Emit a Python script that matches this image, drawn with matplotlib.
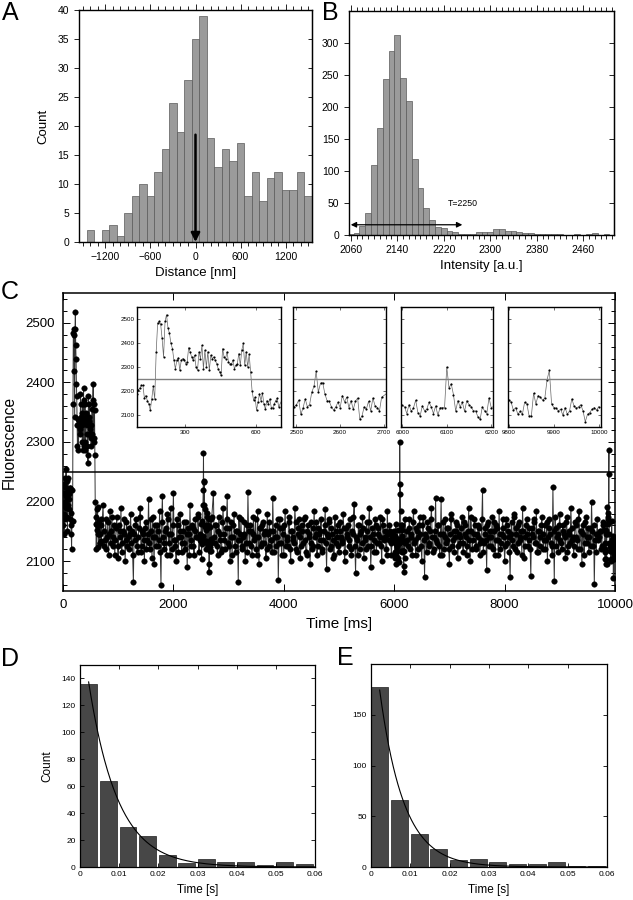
import numpy as np
import matplotlib
matplotlib.use('Agg')
import matplotlib.pyplot as plt
from matplotlib.ticker import MultipleLocator, FixedLocator

plt.rcParams['font.family'] = ['Liberation Sans', 'DejaVu Sans']

# ---------------- data ----------------
# Panel A: distance histogram (bins centred on multiples of 100 nm)
a_first_center = -1400
a_bin_width = 100
a_counts = [2, 0, 2, 3, 1, 5, 8, 10, 8, 12, 16, 24, 19, 28, 35, 39, 18, 13, 16, 14,
            17, 8, 12, 7, 11, 12, 9, 9, 12, 8]
a_xticks = [-1200, -600, 0, 600, 1200]
a_arrow_top = 18.5

# Panel B: intensity histogram (bins centred on multiples of 10)
b_first_center = 2060
b_bin_width = 10
b_counts = [1, 3, 14, 34, 110, 167, 244, 288, 313, 245, 210, 118, 73, 42, 23, 12, 11, 7, 4, 2,
            1, 2, 4, 4, 5, 10, 9, 6, 6, 5, 3, 3, 2, 2, 1, 1, 1, 0.5, 0.5, 1,
            0.5, 1, 3, 0, 1]
b_xticks = [2060, 2140, 2220, 2300, 2380, 2460]
threshold = 2250

# Panel C: fluorescence trace, segments (start ms, step ms, values)
c_pre = [2160, 2195, 2230, 2180, 2145, 2215, 2240, 2200, 2170, 2225, 2190, 2255, 2210, 2175,
         2235, 2205, 2150, 2220, 2240, 2195]
c_event = [2188, 2205, 2213, 2223, 2223, 2171, 2181, 2160, 2146, 2120, 2167, 2219, 2167,
           2363, 2483, 2490, 2480, 2419, 2342, 2490, 2518, 2462, 2440, 2398, 2377, 2328, 2293,
           2328, 2339, 2286, 2328, 2335, 2331, 2314, 2321, 2381, 2363, 2342, 2328, 2349, 2300,
           2286, 2363, 2335, 2391, 2293, 2370, 2300, 2363, 2286, 2349, 2335, 2342, 2328, 2314,
           2293, 2279, 2265, 2377, 2342, 2335, 2363, 2321, 2314, 2311, 2328, 2293, 2307, 2314,
           2356, 2307, 2370, 2398, 2307, 2363, 2300, 2353, 2279,
           2199, 2162, 2174, 2120, 2153, 2188, 2160, 2191, 2146, 2124, 2160, 2146, 2167, 2131,
           2131, 2146, 2160, 2171, 2134]
c_base1 = [2195, 2125, 2170, 2140, 2110, 2185, 2150, 2125, 2160, 2135,
           2175, 2105, 2150, 2190, 2130, 2145, 2100, 2165, 2140, 2120,
           2180, 2150, 2065, 2135, 2170, 2115, 2155, 2190, 2125, 2145,
           2100, 2165, 2135, 2205, 2120, 2150, 2175, 2095, 2140, 2160,
           2125, 2185, 2060, 2210, 2130, 2150, 2110, 2170, 2145, 2190,
           2120, 2215, 2135, 2100, 2160, 2140, 2180, 2115, 2150, 2130,
           2165, 2090, 2145, 2195, 2125, 2155, 2110, 2170, 2140, 2180, 2135]
c_base1b = [2150, 2135, 2120, 2165, 2145, 2130, 2175, 2140, 2110, 2155,
            2125, 2160, 2140, 2115, 2150, 2170, 2135, 2125, 2155, 2145,
            2130, 2110, 2145, 2160, 2125, 2140, 2175, 2115, 2150, 2135,
            2155, 2120, 2145, 2130, 2170, 2105, 2140, 2160, 2125, 2150,
            2135, 2115, 2165, 2140, 2120, 2155, 2180, 2130, 2110, 2145,
            2160, 2135, 2125, 2170, 2115, 2150, 2140, 2130, 2165, 2120,
            2145, 2155, 2110, 2135, 2160, 2125, 2150, 2140, 2175, 2115, 2145]
c_zoom2 = [2134, 2143, 2162, 2103, 2129, 2167, 2134, 2143, 2195, 2219, 2282, 2195, 2233, 2235,
           2188, 2160, 2157, 2134, 2120, 2134, 2153, 2131, 2181, 2155, 2174, 2131, 2160, 2123,
           2157, 2171, 2082, 2096, 2134, 2124, 2157, 2117, 2171, 2138, 2131, 2117, 2174]
c_base2 = [2215, 2130, 2160, 2110, 2175, 2145, 2120, 2190, 2135, 2155,
           2210, 2125, 2100, 2165, 2140, 2180, 2115, 2150, 2065, 2135,
           2170, 2125, 2145, 2100, 2160, 2216, 2130, 2150, 2110, 2175,
           2140, 2120, 2185, 2095, 2155, 2130, 2165, 2145, 2105, 2180,
           2125, 2150, 2135, 2206, 2115, 2160, 2140, 2068, 2170, 2130,
           2155, 2110, 2185, 2140, 2125, 2165, 2100, 2150, 2135, 2190,
           2120, 2145, 2170, 2105, 2160, 2130, 2175, 2115, 2150, 2140,
           2095, 2165, 2125, 2185, 2145, 2110, 2155, 2135, 2170, 2120,
           2150, 2188, 2087, 2140, 2165, 2125, 2145, 2105, 2175, 2130,
           2160, 2115, 2150, 2135, 2180, 2100, 2155, 2140, 2125, 2170,
           2110, 2145, 2196, 2080, 2135, 2160, 2120, 2150, 2175, 2105,
           2140, 2165, 2125, 2190, 2090, 2155, 2135, 2170, 2115, 2145,
           2130, 2175, 2100, 2160, 2140, 2120, 2185, 2135, 2150, 2110, 2145]
c_base2b = [2140, 2160, 2125, 2150, 2135, 2115, 2165, 2145, 2120, 2170,
            2130, 2155, 2140, 2110, 2160, 2125, 2150, 2135, 2175, 2145,
            2120, 2140, 2165, 2130, 2115, 2150, 2160, 2125, 2145, 2135,
            2170, 2110, 2140, 2155, 2125, 2160, 2130, 2150, 2120, 2145,
            2165, 2135, 2115, 2150, 2140, 2125, 2170, 2130, 2155, 2110,
            2145, 2160, 2125, 2135, 2175, 2120, 2150, 2140, 2130, 2165,
            2115, 2155, 2140, 2125, 2150, 2170, 2135, 2110, 2160, 2145,
            2130, 2120, 2155, 2140, 2165, 2125, 2145, 2150, 2115, 2135,
            2160, 2130, 2145, 2170, 2120, 2155, 2135, 2110, 2150, 2140,
            2125, 2165, 2140, 2130, 2155, 2115, 2145, 2160, 2135, 2120,
            2150, 2175, 2125, 2140, 2110, 2160, 2145, 2130, 2155, 2135,
            2120, 2150, 2165, 2140, 2125, 2145, 2115, 2160, 2130, 2155,
            2140, 2125, 2170, 2135, 2150, 2110, 2145, 2160, 2130, 2140, 2150]
c_zoom3 = [2140, 2134, 2106, 2143, 2115, 2129, 2162, 2110, 2096, 2138, 2117, 2124, 2153, 2134,
           2106, 2138, 2099, 2131, 2131, 2131, 2300, 2213, 2230, 2185, 2117, 2160, 2134, 2153,
           2115, 2160, 2143, 2134, 2117, 2117, 2092, 2082, 2134, 2117, 2106, 2171, 2131]
c_base3 = [2150, 2125, 2170, 2140, 2110, 2185, 2135, 2155, 2120, 2160,
           2145, 2100, 2175, 2073, 2140, 2165, 2125, 2150, 2190, 2115,
           2140, 2206, 2130, 2160, 2110, 2205, 2145, 2120, 2170, 2135,
           2155, 2095, 2180, 2125, 2150, 2140, 2165, 2105, 2145, 2130,
           2175, 2115, 2160, 2140, 2125, 2190, 2100, 2150, 2135, 2170,
           2120, 2145, 2160, 2110, 2135, 2220, 2130, 2155, 2085, 2165,
           2140, 2125, 2175, 2150, 2110, 2160, 2135, 2185, 2120, 2145,
           2155, 2100, 2170, 2130, 2140, 2073, 2165, 2125, 2180, 2145,
           2115, 2160, 2135, 2150, 2190, 2105, 2140, 2170, 2125, 2155,
           2075, 2145, 2165, 2130, 2185, 2115, 2150, 2140, 2175, 2120,
           2160, 2135, 2100, 2170, 2145, 2125, 2225, 2066, 2155, 2140,
           2115, 2180, 2130, 2160, 2145, 2105, 2175, 2125, 2150, 2190,
           2135, 2110, 2165, 2140, 2120, 2185, 2150, 2095, 2160, 2130,
           2175, 2140, 2115, 2155, 2200, 2125, 2061, 2145, 2170, 2135, 2150, 2120, 2165]
c_base3b = [2135, 2155, 2120, 2145, 2165, 2130, 2110, 2150, 2140, 2175,
            2125, 2160, 2135, 2145, 2115, 2155, 2130, 2170, 2140, 2120,
            2150, 2135, 2160, 2125, 2145, 2110, 2165, 2140, 2130, 2155,
            2120, 2145, 2170, 2135, 2115, 2150, 2160, 2125, 2140, 2155,
            2130, 2165, 2145, 2110, 2150, 2135, 2175, 2120, 2145, 2160,
            2125, 2140, 2155, 2130, 2170, 2115, 2145, 2135, 2160, 2125,
            2150, 2140, 2120, 2165, 2135, 2155, 2110, 2145, 2130, 2170,
            2140, 2125, 2160, 2150, 2115, 2145, 2135, 2175, 2120, 2155,
            2130, 2165, 2140, 2110, 2150, 2125, 2160, 2145, 2135, 2120,
            2155, 2140, 2170, 2130, 2115, 2150, 2125, 2160, 2145, 2135,
            2120, 2165, 2140, 2155, 2130, 2110, 2150, 2175, 2125, 2145,
            2160, 2135, 2120, 2150, 2140, 2165, 2115, 2145, 2130, 2155,
            2140, 2125, 2160, 2135, 2170, 2120, 2150, 2145, 2110, 2165,
            2130, 2155, 2140, 2125, 2150, 2160, 2135, 2115, 2145, 2140,
            2150, 2125, 2160]
c_zoom4 = [2162, 2153, 2120, 2131, 2103, 2115, 2103, 2153, 2146, 2096, 2096, 2191, 2146, 2181,
           2174, 2162, 2171, 2247, 2286, 2146, 2131, 2129, 2117, 2124, 2100, 2131, 2103, 2117,
           2167, 2138, 2129, 2134, 2143, 2117, 2072, 2103, 2110, 2124, 2131, 2120, 2135]
c_segments = [(0, 5, c_pre), (100, 6.2, c_event),
              (725, 25, c_base1), (737.5, 25, c_base1b), (2495, 5, c_zoom2),
              (2725, 25, c_base2), (2737.5, 25, c_base2b), (6000, 5, c_zoom3),
              (6225, 25, c_base3), (6237.5, 25, c_base3b), (9800, 5, c_zoom4)]
c_xticks = [0, 2000, 4000, 6000, 8000, 10000]
c_yticks = [2100, 2200, 2300, 2400, 2500]
inset_xlims = [(100, 705), (2492, 2705), (5997, 6204), (9798, 10005)]
inset_xticks = [[300, 600], [2500, 2600, 2700], [6000, 6100, 6200], [9800, 9900, 10000]]

# Panels D, E: dwell-time histograms with exponential fits
de_bin_width = 0.005
d_counts = [136, 64, 30, 23, 9, 3, 6, 4, 3.5, 1.5, 4, 2]
d_fit_amp, d_fit_tau = 185.0, 0.0074
e_counts = [177, 66, 33, 18, 7, 8, 5, 3, 3, 5, 1, 1]
e_fit_amp, e_fit_tau = 250.0, 0.0061
de_xticks = [0, 0.01, 0.02, 0.03, 0.04, 0.05, 0.06]
de_xlabels = ['0', '0.01', '0.02', '0.03', '0.04', '0.05', '0.06']

# ---------------- figure ----------------
W, H = 633, 900
fig = plt.figure(figsize=(W / 100, H / 100), dpi=100)


def rect(x0, y0, x1, y1):
    return [x0 / W, 1 - y1 / H, (x1 - x0) / W, (y1 - y0) / H]


def spines(ax, lw=1.0):
    for s in ax.spines.values():
        s.set_linewidth(lw)


# ---- Panel A ----
axA = fig.add_axes(rect(79, 10, 312, 242))
a_centers = a_first_center + a_bin_width * np.arange(len(a_counts))
axA.bar(a_centers, a_counts, width=a_bin_width, color='#9b9b9b', edgecolor='#5a5a5a', linewidth=0.5)
axA.annotate('', xy=(0, 0), xytext=(0, a_arrow_top),
             arrowprops=dict(arrowstyle='-|>', color='black', lw=1.8, mutation_scale=13,
                             shrinkA=0, shrinkB=0))
axA.set_xlim(-1550, 1550)
axA.set_ylim(0, 40)
axA.xaxis.set_major_locator(FixedLocator(a_xticks))
axA.xaxis.set_minor_locator(MultipleLocator(100))
axA.set_yticks(range(0, 41, 5))
axA.tick_params(axis='x', which='both', direction='out', top=True, labelsize=7.5, width=0.6)
axA.tick_params(axis='x', which='major', length=4)
axA.tick_params(axis='x', which='minor', length=3)
axA.tick_params(axis='y', direction='out', labelsize=7.5, length=3.5, width=0.6)
secA = axA.secondary_yaxis('right')
secA.set_ticks(range(0, 41, 5))
secA.tick_params(direction='in', length=3, width=0.6, labelright=False)
axA.set_xlabel('Distance [nm]', fontsize=9.5, labelpad=3)
axA.set_ylabel('Count', fontsize=9.5, labelpad=6)
spines(axA)

# ---- Panel B ----
axB = fig.add_axes(rect(349, 11, 614, 235))
b_centers = b_first_center + b_bin_width * np.arange(len(b_counts))
axB.bar(b_centers, b_counts, width=b_bin_width, color='#9b9b9b', edgecolor='#5a5a5a', linewidth=0.5)
axB.annotate('', xy=(threshold + 2, 16), xytext=(2060, 16),
             arrowprops=dict(arrowstyle='<|-|>', color='black', lw=0.9, mutation_scale=8,
                             shrinkA=0, shrinkB=0))
axB.text(threshold + 2, 50, 'T=%d' % threshold, ha='center', va='center', fontsize=6.3)
axB.set_xlim(2057, 2513)
axB.set_ylim(0, 350)
axB.xaxis.set_major_locator(FixedLocator(b_xticks))
axB.xaxis.set_minor_locator(MultipleLocator(10))
axB.set_yticks(range(0, 301, 50))
axB.tick_params(axis='x', which='both', direction='out', top=True, labelsize=7.5, width=0.6)
axB.tick_params(axis='x', which='major', length=4)
axB.tick_params(axis='x', which='minor', length=3)
axB.tick_params(axis='y', direction='out', labelsize=7.5, length=3.5, width=0.6)
secB = axB.secondary_yaxis('right')
secB.set_ticks(range(0, 301, 50))
secB.tick_params(direction='in', length=3.5, width=0.6, labelright=False)
axB.set_xlabel('Intensity [a.u.]', fontsize=9.5, labelpad=3)
spines(axB)

# ---- Panel C ----
t = np.concatenate([s0 + st * np.arange(len(v)) for s0, st, v in c_segments])
f = np.concatenate([np.array(v, dtype=float) for s0, st, v in c_segments])
order = np.argsort(t, kind='stable')
t, f = t[order], f[order]

axC = fig.add_axes(rect(63, 293, 615, 591))
axC.plot(t, f, '-', color='#333333', lw=0.7, marker='o', ms=4.0, mfc='black', mec='black',
         mew=0.3, zorder=2)
axC.axhline(threshold, color='black', lw=1.1, zorder=3)
axC.set_xlim(0, 10000)
axC.set_ylim(2050, 2550)
axC.set_xticks(c_xticks)
axC.set_yticks(c_yticks)
axC.yaxis.set_minor_locator(MultipleLocator(20))
axC.tick_params(which='both', direction='in', top=True, right=True, labelsize=9.5, width=0.7, pad=6)
axC.tick_params(which='major', length=5)
axC.tick_params(which='minor', length=3)
axC.set_xlabel('Time [ms]', fontsize=11, labelpad=4)
axC.set_ylabel('Fluorescence', fontsize=11.2, labelpad=6)
spines(axC, 1.1)

inset_rects = [(137, 307, 281, 427), (293, 307, 386, 427), (401, 307, 493, 427), (508, 307, 601, 427)]
for i, (r, xl, xt) in enumerate(zip(inset_rects, inset_xlims, inset_xticks)):
    ax = fig.add_axes(rect(*r))
    ax.plot(t, f, '-', color='#666666', lw=0.5, marker='o', ms=1.3, mfc='black', mec='black',
            mew=0.2)
    ax.axhline(threshold, color='#808080', lw=1.0)
    ax.set_xlim(*xl)
    ax.set_ylim(2050, 2550)
    ax.set_xticks(xt)
    ax.set_yticks(c_yticks)
    ax.tick_params(which='both', direction='in', top=True, right=True, labelsize=4.5,
                   length=2, width=0.4, pad=2)
    if i > 0:
        ax.tick_params(labelleft=False)
    spines(ax, 1.0)

# ---- Panels D, E ----
def dwell(ax, counts, amp, tau, ylim, yticks, ylabel):
    left = 0.0001 + de_bin_width * np.arange(len(counts))
    ax.bar(left, counts, width=0.0043, align='edge', color='#474747', edgecolor='#1e1e1e',
           linewidth=0.5)
    tt = np.linspace(0.0022, 0.06, 300)
    ax.plot(tt, amp * np.exp(-tt / tau), color='black', lw=0.8)
    ax.set_xlim(0, 0.06)
    ax.set_ylim(*ylim)
    ax.set_xticks(de_xticks)
    ax.set_xticklabels(de_xlabels)
    ax.set_yticks(yticks)
    ax.tick_params(direction='in', top=True, right=True, labelsize=6, length=3, width=0.6, pad=3)
    ax.set_xlabel('Time [s]', fontsize=8.5, labelpad=4)
    if ylabel:
        ax.set_ylabel(ylabel, fontsize=8.5, labelpad=6)
    spines(ax, 0.9)


axD = fig.add_axes(rect(80, 665, 315, 867))
dwell(axD, d_counts, d_fit_amp, d_fit_tau, (0, 150), range(0, 141, 20), 'Count')
axE = fig.add_axes(rect(371, 664, 607, 867))
dwell(axE, e_counts, e_fit_amp, e_fit_tau, (0, 200), [0, 50, 100, 150], None)

# panel letters
for lab, x, y in [('A', 2, 1), ('B', 322, 1), ('C', 1, 280), ('D', 1, 647), ('E', 337, 646)]:
    fig.text(x / W, 1 - y / H, lab, fontsize=18, ha='left', va='top')

fig.savefig('out.png', dpi=100)
